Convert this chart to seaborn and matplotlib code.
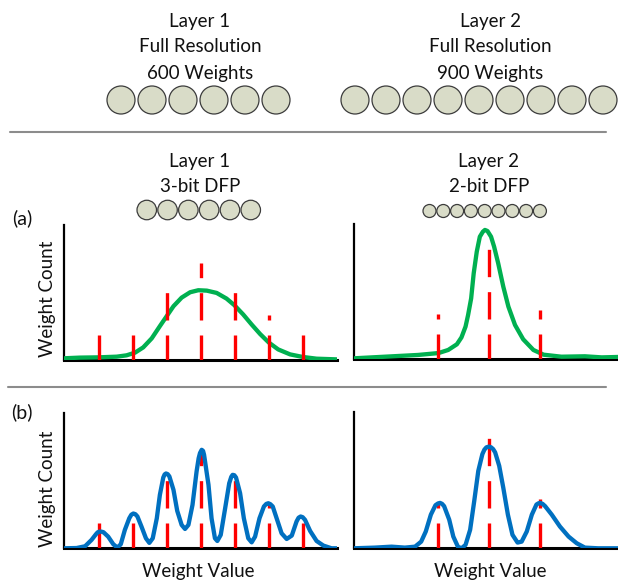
import matplotlib
matplotlib.use("Agg")
import matplotlib.pyplot as plt
from matplotlib.patches import Circle
import seaborn as sns

# quantised weight histograms (height in % of axis height)
levels_l1 = [-3, -2, -1, 0, 1, 2, 3]
counts_l1 = [19, 19, 51, 72, 51, 33, 19]
levels_l2 = [-1, 0, 1]
counts_l2 = [33, 82, 36]

# (a) weight distribution, layer 1 (green)
a1_x = [-4.02, -3.55, -3.0, -2.47, -2.18, -1.93, -1.69, -1.44, -1.2, -1.0, -0.8, -0.56,
        -0.31, -0.07, 0.18, 0.47, 0.76, 0.99, 1.25, 1.5, 1.75, 2.0, 2.28, 2.63, 3.0, 3.41, 4.0]
a1_y = [0.9, 1.4, 1.6, 2.1, 3.1, 5.1, 9.0, 15.7, 24.8, 32.2, 39.6, 46.0,
        50.0, 51.5, 51.2, 49.5, 45.3, 40.4, 33.5, 26.0, 18.9, 12.7, 7.5, 3.8, 1.9, 0.6, 0.1]

# (a) weight distribution, layer 2 (green)
a2_x = [-2.65, -2.04, -1.39, -0.99, -0.8, -0.63, -0.54, -0.46, -0.41, -0.35, -0.3, -0.24,
        -0.18, -0.12, -0.08, -0.03, 0.04, 0.1, 0.18, 0.28, 0.38, 0.51, 0.67, 0.87, 1.07,
        1.42, 1.88, 2.21, 2.53]
a2_y = [0.5, 1.7, 3.0, 4.4, 6.7, 10.9, 16.0, 24.0, 32.6, 44.9, 63.5, 79.5,
        90.6, 94.3, 95.6, 94.8, 90.6, 83.2, 70.9, 53.6, 38.8, 25.2, 14.6, 6.7, 3.2,
        1.7, 2.0, 1.2, 1.5]

# (b) weight distribution after retraining, layer 1 (blue)
b1_x = [-4.02, -3.65, -3.4, -3.21, -3.08, -3.03, -2.98, -2.92, -2.86, -2.72, -2.57, -2.45,
        -2.35, -2.23, -2.1, -2.04, -1.98, -1.92, -1.86, -1.74, -1.61, -1.51, -1.41, -1.29,
        -1.2, -1.1, -1.06, -1.02, -0.97, -0.92, -0.8, -0.69, -0.56, -0.46, -0.36, -0.24,
        -0.12, -0.06, -0.02, 0.03, 0.07, 0.1, 0.23, 0.32, 0.42, 0.49, 0.59, 0.72, 0.84,
        0.9, 0.94, 0.99, 1.04, 1.16, 1.27, 1.4, 1.5, 1.6, 1.73, 1.86, 1.93, 1.99, 2.05,
        2.12, 2.25, 2.38, 2.53, 2.68, 2.82, 2.88, 2.94, 3.0, 3.07, 3.22, 3.41, 3.61,
        3.85, 4.0]
b1_y = [0.0, 0.2, 1.5, 6.2, 10.4, 11.8, 12.3, 12.3, 11.9, 8.6, 3.0, 0.5,
        3.0, 13.6, 22.2, 24.8, 25.7, 25.2, 23.5, 16.0, 7.4, 4.0, 7.4, 22.2,
        39.5, 52.3, 54.6, 55.3, 54.8, 53.1, 43.2, 27.7, 17.3, 14.3, 17.3, 32.1,
        56.8, 66.5, 70.4, 72.8, 72.0, 69.1, 46.9, 22.2, 7.4, 5.4, 9.9, 29.6, 48.1,
        52.8, 54.3, 54.0, 52.3, 40.7, 22.2, 7.4, 4.4, 8.6, 22.2, 30.9, 32.8, 33.3, 32.6,
        30.9, 21.0, 11.1, 6.9, 9.4, 19.8, 22.6, 23.5, 23.0, 21.0, 12.8, 5.4, 2.0,
        0.0, 0.0]

# (b) weight distribution after retraining, layer 2 (blue)
b2_x = [-2.65, -2.24, -1.91, -1.65, -1.45, -1.33, -1.24, -1.14, -1.05, -1.0, -0.96, -0.92,
        -0.88, -0.78, -0.7, -0.61, -0.54, -0.46, -0.37, -0.29, -0.21, -0.13, -0.09, -0.05,
        0.0, 0.04, 0.08, 0.12, 0.2, 0.28, 0.37, 0.46, 0.56, 0.64, 0.74, 0.84, 0.93, 0.97,
        1.0, 1.05, 1.1, 1.23, 1.39, 1.56, 1.72, 1.88, 2.14, 2.53]
b2_y = [0.0, 0.5, 1.2, 0.5, 1.2, 4.9, 12.3, 24.7, 31.6, 32.9, 33.3, 32.6,
        30.9, 21.0, 8.6, 1.2, 0.0, 2.5, 13.6, 34.6, 56.8, 69.1, 72.4, 74.1,
        74.6, 74.1, 72.8, 70.4, 60.5, 44.4, 24.7, 9.9, 4.2, 4.9, 12.3, 24.7, 32.1, 33.0,
        33.3, 32.6, 30.9, 24.7, 16.0, 8.6, 3.7, 0.5, 0.0, 0.0]

top_titles = [["Layer 1", "Full Resolution", "600 Weights"],
              ["Layer 2", "Full Resolution", "900 Weights"]]
mid_titles = [["Layer 1", "3-bit DFP"], ["Layer 2", "2-bit DFP"]]
n_weights = [6, 9]

W, H = 618, 581
GREEN, BLUE, RED = "#00b050", "#0070c0", "#ff0000"
FILL, EDGE = "#d9dcc8", "#3c3c3c"

sns.set_theme(style="white")
plt.rcParams["font.family"] = ["Lato", "DejaVu Sans"]

fig = plt.figure(figsize=(W / 100, H / 100), dpi=100)

# overlay axes in pixel units for text, separators and weight circles
bg = fig.add_axes([0, 0, 1, 1])
bg.set_xlim(0, W)
bg.set_ylim(H, 0)
bg.axis("off")

fs = 13.5
tc = "#111111"
for cx, lines in zip([200, 490], top_titles):
    for y, t in zip([21, 47, 73], lines):
        bg.text(cx, y, t, ha="center", va="center", fontsize=fs, color=tc)
for cx, lines in zip([200, 489], mid_titles):
    for y, t in zip([161, 187], lines):
        bg.text(cx, y, t, ha="center", va="center", fontsize=fs, color=tc)


def circles(x0, y, d, step, n):
    for i in range(n):
        bg.add_patch(Circle((x0 + d / 2 + i * step, y), d / 2, facecolor=FILL,
                            edgecolor=EDGE, lw=0.9))


circles(107, 100, 28, 31, n_weights[0])
circles(341, 100, 28, 31, n_weights[1])
circles(137, 210, 19.5, 20.8, n_weights[0])
circles(423, 211, 13, 13.8, n_weights[1])

bg.plot([10, 606], [132, 132], color="#8c8c8c", lw=1.5)
bg.plot([8, 606], [387, 387], color="#8c8c8c", lw=1.5)

bg.text(22, 218, "(a)", ha="center", va="center", fontsize=fs + 0.5, color=tc)
bg.text(22, 412, "(b)", ha="center", va="center", fontsize=fs + 0.5, color=tc)
for yc in [299, 489]:
    bg.text(47, yc, "Weight Count", ha="center", va="center", rotation=90,
            fontsize=fs, color=tc)
for xc in [198, 490]:
    bg.text(xc, 572, "Weight Value", ha="center", va="center", fontsize=fs, color=tc)


def panel(x0, x1, ytop, ybot, xlim):
    ax = fig.add_axes([x0 / W, (H - ybot) / H, (x1 - x0) / W, (ybot - ytop) / H])
    ax.set_facecolor("none")
    ax.set_xlim(*xlim)
    ax.set_ylim(0, 100)
    ax.set_xticks([])
    ax.set_yticks([])
    for s in ["top", "right"]:
        ax.spines[s].set_visible(False)
    ax.spines["left"].set_color("black")
    ax.spines["left"].set_linewidth(1.6)
    ax.spines["bottom"].set_color("black")
    ax.spines["bottom"].set_linewidth(2.2)
    return ax


dash = (0.7, (8.2, 4.5))
panels = [
    (panel(64, 337, 225, 359.5, (-4.02, 4.01)), a1_x, a1_y, GREEN, levels_l1, counts_l1, True),
    (panel(354, 618, 224, 359, (-2.647, 2.529)), a2_x, a2_y, GREEN, levels_l2, counts_l2, True),
    (panel(64, 337, 413, 548.3, (-4.02, 4.01)), b1_x, b1_y, BLUE, levels_l1, counts_l1, False),
    (panel(354, 618, 412, 548.3, (-2.647, 2.529)), b2_x, b2_y, BLUE, levels_l2, counts_l2, False),
]
for ax, xs, ys, col, lv, ct, red_on_top in panels:
    sns.lineplot(x=xs, y=ys, ax=ax, color=col, lw=3.1, sort=False, estimator=None,
                 zorder=3, solid_joinstyle="round", solid_capstyle="round")
    ax.vlines(lv, 0, ct, colors=RED, linewidth=2.4, linestyles=[dash],
              zorder=4 if red_on_top else 2.8)
    ax.set_xlabel("")
    ax.set_ylabel("")

fig.savefig("out.png", dpi=100)
